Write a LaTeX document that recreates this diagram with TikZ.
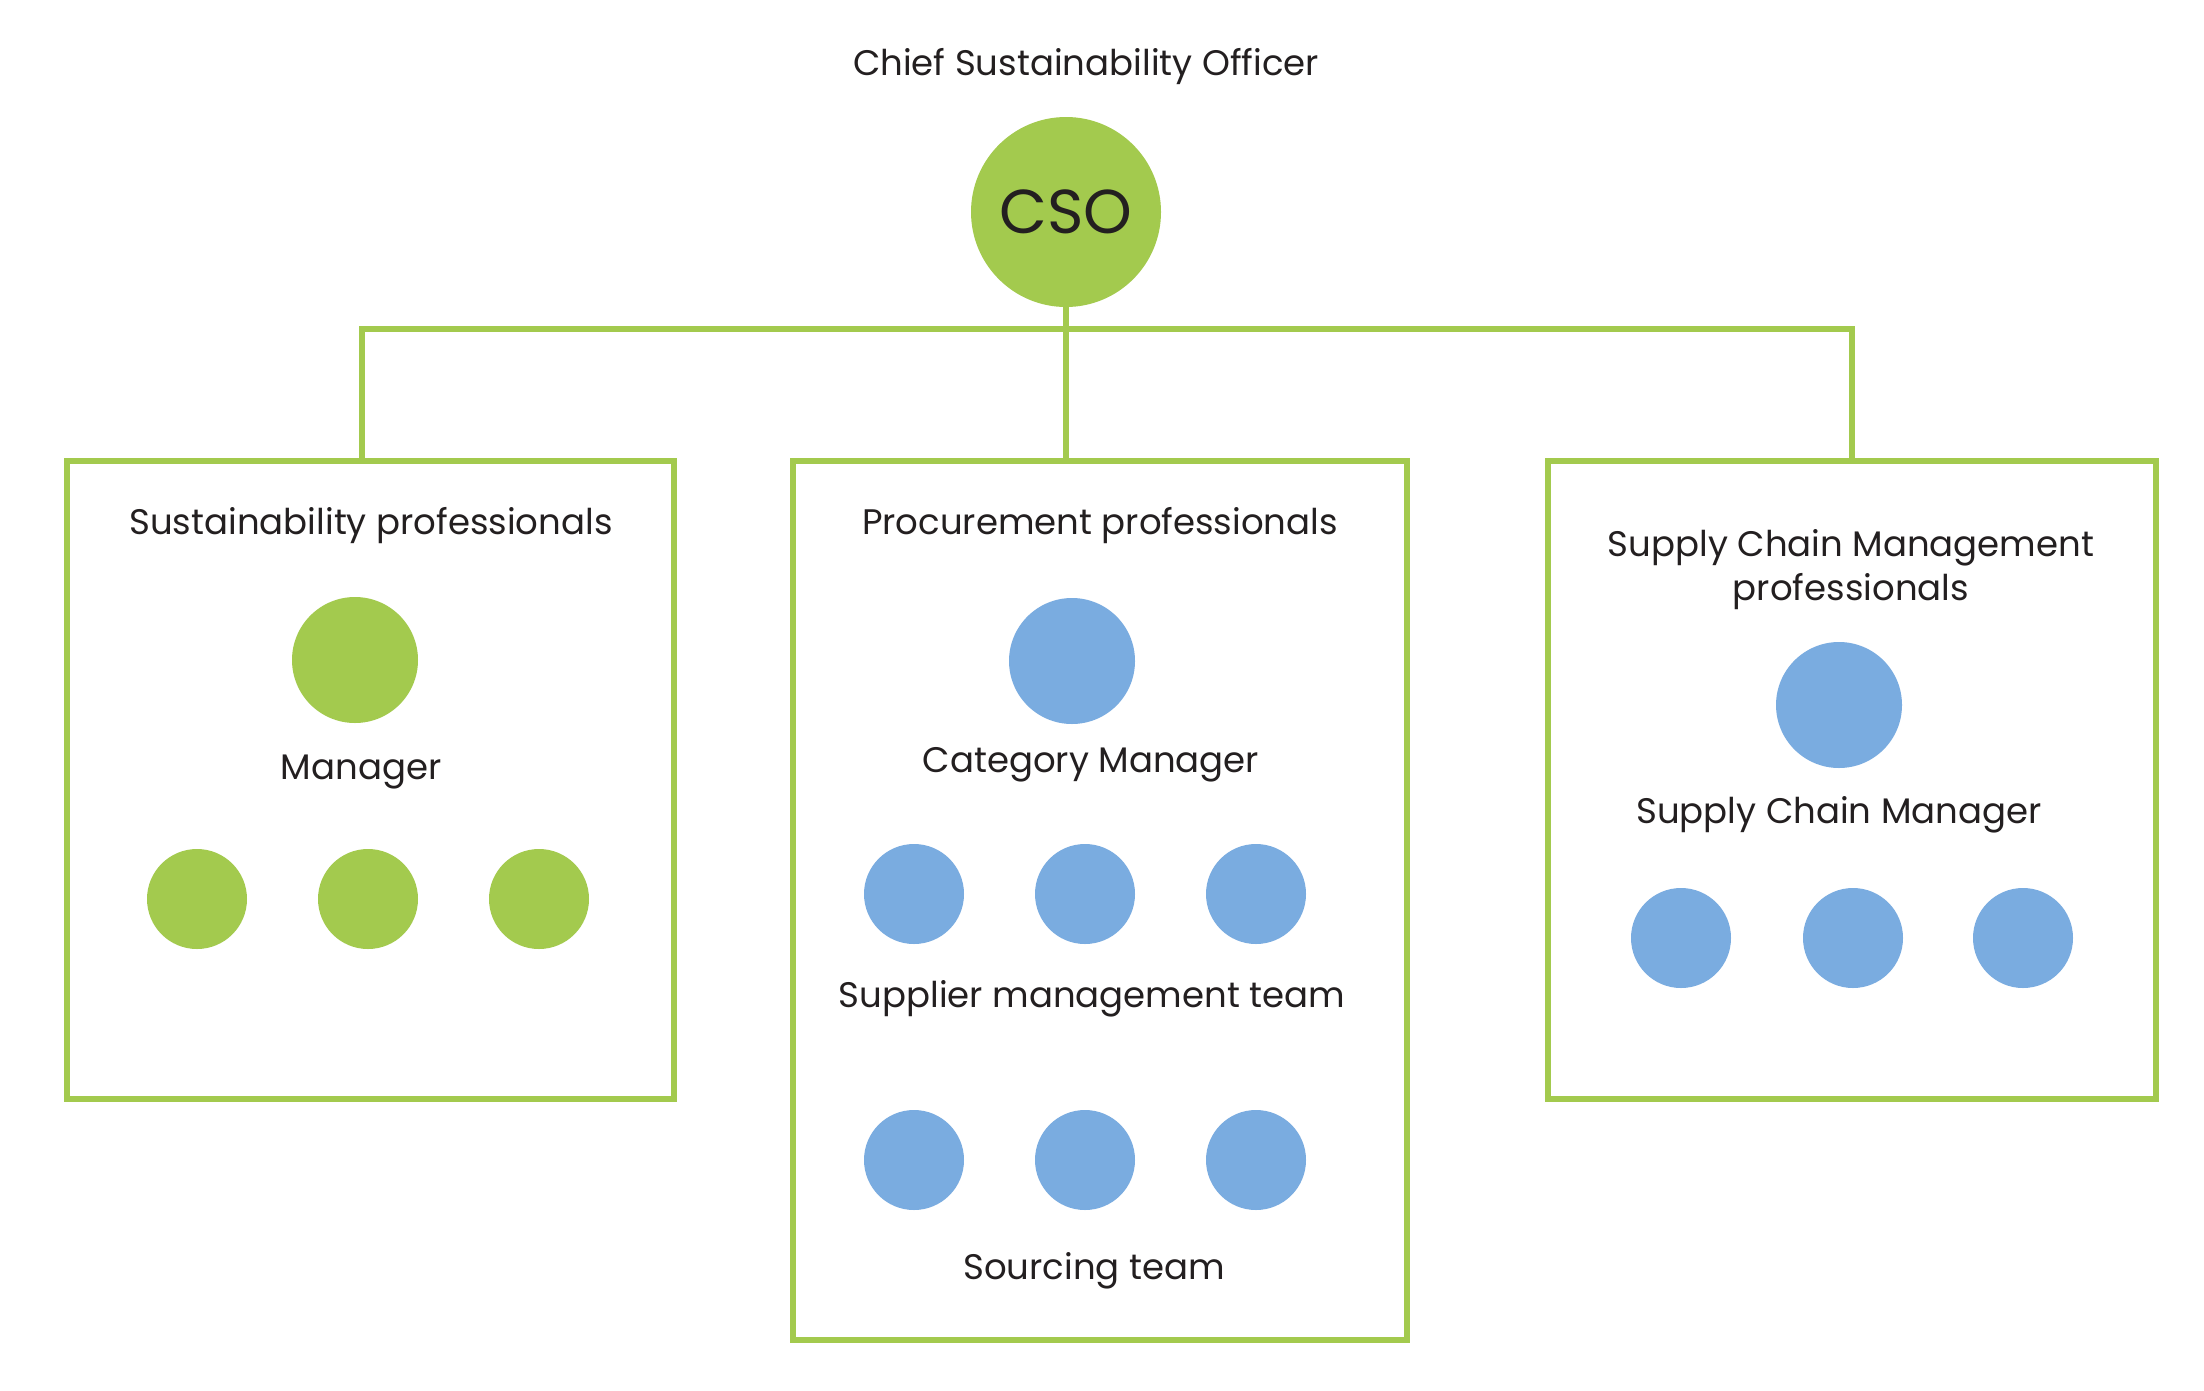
\documentclass[tikz,border=0pt]{standalone}
\usepackage{fontspec}
\setmainfont{Poppins}
\definecolor{lgreen}{HTML}{A3CA4E}
\definecolor{lblue}{HTML}{7AACE0}
\definecolor{ink}{HTML}{231F20}
\begin{document}
\begin{tikzpicture}[x=1pt,y=-1pt,
  conn/.style={draw=lgreen,line width=6pt},
  panel/.style={draw=lgreen,line width=6pt,rectangle,inner sep=0pt},
  bigdot/.style={circle,fill=lgreen,inner sep=0pt,minimum size=126pt},
  gdot/.style={circle,fill=lgreen,inner sep=0pt,minimum size=100pt},
  bdot/.style={circle,fill=lblue,inner sep=0pt,minimum size=126pt},
  sdot/.style={circle,fill=lblue,inner sep=0pt,minimum size=100pt},
  lbl/.style={text=ink,anchor=base,inner sep=0pt,font=\fontsize{35.5}{44}\selectfont,align=center}]
\fill[white] (0,0) rectangle (2204,1390);
\useasboundingbox (0,0) rectangle (2204,1390);
% title and CSO
\node[lbl] (title) at (1086,75) {Chief Sustainability Officer};
\node[circle,fill=lgreen,inner sep=0pt,minimum size=190pt] (cso) at (1066,212) {};
\node[text=ink,inner sep=0pt,font=\fontsize{62}{70}\selectfont] (csot) at (cso.center) {CSO};
% panels
\node[panel,minimum width=607pt,minimum height=638pt] (lbox) at (370.5,780) {};
\node[panel,minimum width=614pt,minimum height=879pt] (mbox) at (1100,900.5) {};
\node[panel,minimum width=608pt,minimum height=638pt] (rbox) at (1852,780) {};
% connectors
\coordinate (bar) at (0,329);
\coordinate (lj) at (362,461);
\coordinate (rj) at (1852,461);
\draw[conn] (cso.south) -- (cso.south |- mbox.north);
\draw[conn] (lj) -- (lj |- bar) -- (rj |- bar) -- (rj);
% left panel
\node[lbl] (lt) at (371,534) {Sustainability professionals};
\node[bigdot] (lm) at (355,660) {};
\node[lbl] (lml) at (361,779) {Manager};
\node[gdot] (l1) at (197,899) {};
\node[gdot] (l2) at (368,899) {};
\node[gdot] (l3) at (539,899) {};
% middle panel
\node[lbl] (mt) at (1100,534) {Procurement professionals};
\node[bdot] (mm) at (1072,661) {};
\node[lbl] (mml) at (1091,772) {Category Manager};
\node[sdot] (m1) at (914,894) {};
\node[sdot] (m2) at (1085,894) {};
\node[sdot] (m3) at (1256,894) {};
\node[lbl] (msl) at (1092,1007) {Supplier management team};
\node[sdot] (m4) at (914,1160) {};
\node[sdot] (m5) at (1085,1160) {};
\node[sdot] (m6) at (1256,1160) {};
\node[lbl] (mst) at (1094,1279) {Sourcing team};
% right panel
\node[lbl] (rt1) at (1851,556) {Supply Chain Management};
\node[lbl] (rt2) at (1851,600) {professionals};
\node[bdot] (rm) at (1839,705) {};
\node[lbl] (rml) at (1839,823) {Supply Chain Manager};
\node[sdot] (r1) at (1681,938) {};
\node[sdot] (r2) at (1853,938) {};
\node[sdot] (r3) at (2023,938) {};
\end{tikzpicture}
\end{document}
